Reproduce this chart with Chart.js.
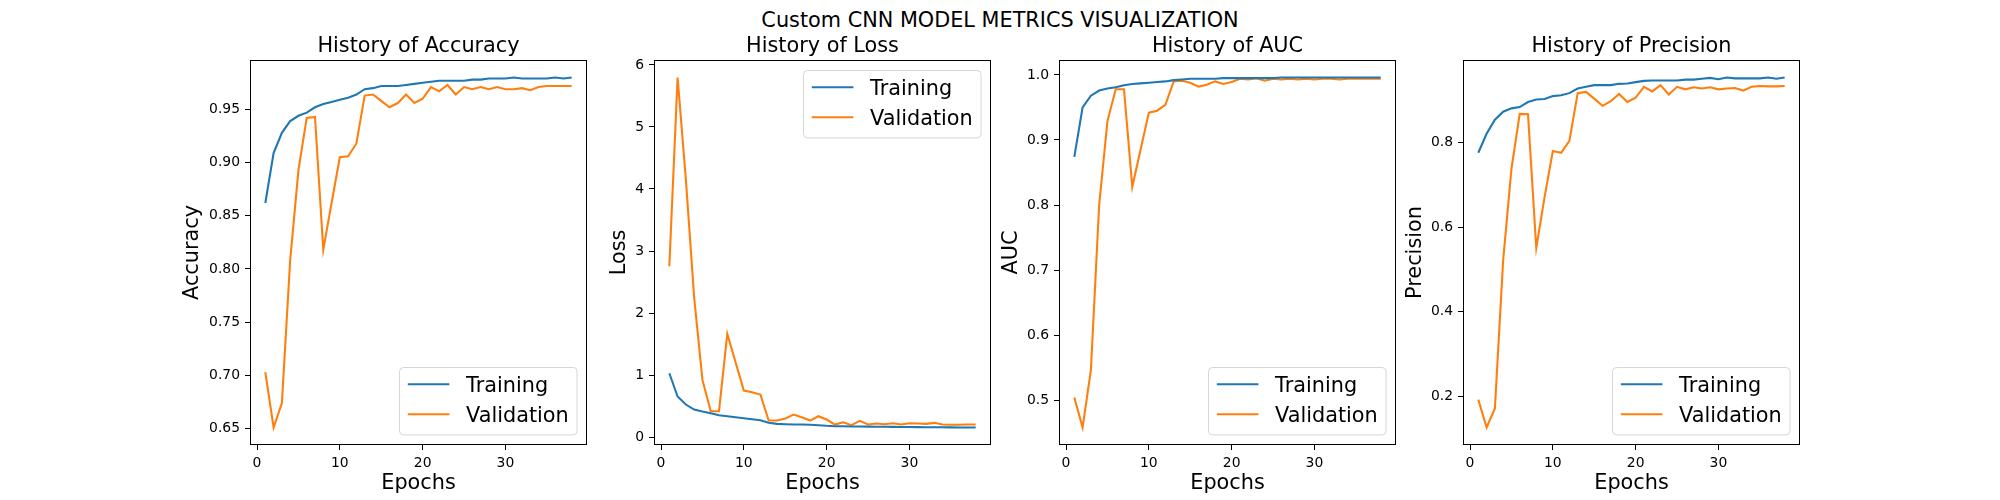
<!DOCTYPE html>
<html><head><meta charset="utf-8">
<script src="https://cdn.jsdelivr.net/npm/chart.js@4.4.1/dist/chart.umd.min.js"></script>
<style>
html,body{margin:0;padding:0;background:#fff;}
#wrap{position:relative;width:2000px;height:500px;overflow:hidden;background:#fff;}
#sup{position:absolute;left:0;top:8px;width:2000px;text-align:center;font-family:"DejaVu Sans",sans-serif;font-size:20.8px;line-height:24px;color:#000;}
canvas{position:absolute;top:0;}
</style></head><body>
<div id="wrap">
<div id="sup">Custom CNN MODEL METRICS VISUALIZATION</div>
<canvas id="c0" width="452" height="500" style="width:452px;height:500px"></canvas>
<canvas id="c1" width="452" height="500" style="width:452px;height:500px"></canvas>
<canvas id="c2" width="452" height="500" style="width:452px;height:500px"></canvas>
<canvas id="c3" width="452" height="500" style="width:452px;height:500px"></canvas>
</div>
<script>
// ---------- data ----------
const epochs = [1,2,3,4,5,6,7,8,9,10,11,12,13,14,15,16,17,18,19,20,21,22,23,24,25,26,27,28,29,30,31,32,33,34,35,36,37,38];

const accTrain = [0.862,0.909,0.928,0.939,0.944,0.947,0.952,0.955,0.957,0.959,0.961,0.964,0.969,0.970,0.972,0.972,0.972,0.973,0.974,0.975,0.976,0.977,0.977,0.977,0.977,0.978,0.978,0.979,0.979,0.979,0.980,0.979,0.979,0.979,0.979,0.980,0.979,0.980];
const accVal   = [0.703,0.651,0.674,0.808,0.893,0.942,0.943,0.818,0.862,0.905,0.906,0.918,0.963,0.964,0.958,0.952,0.956,0.964,0.956,0.960,0.971,0.967,0.973,0.964,0.971,0.969,0.971,0.969,0.971,0.969,0.969,0.970,0.968,0.971,0.972,0.972,0.972,0.972];

const lossTrain = [1.03,0.655,0.526,0.445,0.413,0.386,0.354,0.338,0.322,0.306,0.290,0.274,0.231,0.215,0.209,0.204,0.204,0.199,0.193,0.183,0.177,0.175,0.172,0.172,0.170,0.168,0.167,0.166,0.164,0.163,0.162,0.161,0.160,0.159,0.158,0.157,0.157,0.156];
const lossVal   = [2.754,5.797,4.15,2.25,0.923,0.419,0.419,1.664,1.208,0.751,0.725,0.687,0.268,0.268,0.300,0.365,0.322,0.268,0.338,0.284,0.204,0.241,0.193,0.263,0.204,0.220,0.209,0.225,0.204,0.225,0.220,0.215,0.231,0.204,0.199,0.199,0.204,0.204];

const aucTrain = [0.874,0.950,0.968,0.976,0.979,0.981,0.984,0.986,0.987,0.988,0.989,0.990,0.992,0.993,0.994,0.994,0.994,0.994,0.995,0.995,0.995,0.995,0.995,0.995,0.995,0.996,0.996,0.996,0.996,0.996,0.996,0.996,0.996,0.996,0.996,0.996,0.996,0.996];
const aucVal   = [0.504,0.458,0.546,0.800,0.929,0.978,0.978,0.828,0.885,0.942,0.945,0.954,0.990,0.991,0.988,0.982,0.985,0.990,0.986,0.989,0.994,0.993,0.995,0.991,0.994,0.993,0.994,0.993,0.994,0.993,0.994,0.994,0.993,0.994,0.994,0.994,0.994,0.994];

const precTrain = [0.776,0.821,0.854,0.873,0.881,0.884,0.896,0.902,0.903,0.910,0.912,0.917,0.928,0.932,0.936,0.936,0.936,0.939,0.940,0.943,0.946,0.947,0.947,0.947,0.947,0.949,0.949,0.951,0.953,0.950,0.954,0.952,0.952,0.952,0.952,0.954,0.951,0.954];
const precVal   = [0.192,0.126,0.171,0.522,0.738,0.868,0.867,0.551,0.671,0.780,0.776,0.804,0.917,0.920,0.904,0.887,0.898,0.915,0.896,0.906,0.932,0.921,0.936,0.914,0.932,0.926,0.931,0.928,0.931,0.926,0.928,0.929,0.923,0.932,0.934,0.933,0.933,0.934];

const xTicks = [0,10,20,30];
const xTickLabels = ['0','10','20','30'];
const accTicks = [0.65,0.70,0.75,0.80,0.85,0.90,0.95];
const accTickLabels = ['0.65','0.70','0.75','0.80','0.85','0.90','0.95'];
const lossTicks = [0,1,2,3,4,5,6];
const lossTickLabels = ['0','1','2','3','4','5','6'];
const aucTicks = [0.5,0.6,0.7,0.8,0.9,1.0];
const aucTickLabels = ['0.5','0.6','0.7','0.8','0.9','1.0'];
const precTicks = [0.2,0.4,0.6,0.8];
const precTickLabels = ['0.2','0.4','0.6','0.8'];

const seriesLabels = ['Training','Validation'];
const suptitle = 'Custom CNN MODEL METRICS VISUALIZATION';

// ---------- styling / layout ----------
const FONT = '"DejaVu Sans", sans-serif';
Chart.defaults.font.family = FONT;
Chart.defaults.color = '#000';
const C_TRAIN = '#1f77b4', C_VAL = '#ff7f0e';
const AX_W = 337, YBOX = 100, RPAD = 15, TOP = 60, XBOX = 55;

function padRange(){
  const all = [].concat(...arguments);
  const lo = Math.min(...all), hi = Math.max(...all);
  const m = (hi - lo) * 0.05;
  return [lo - m, hi + m];
}

const mplPlugin = {
  id: 'mpl',
  afterDraw(chart, args, o){
    const ctx = chart.ctx, a = chart.chartArea;
    ctx.save();
    // spines
    ctx.strokeStyle = '#000'; ctx.lineWidth = 1;
    ctx.strokeRect(a.left + 0.5, a.top + 0.5, a.right - a.left - 1, a.bottom - a.top - 1);
    // title
    ctx.fillStyle = '#000';
    ctx.font = '20.8px ' + FONT;
    ctx.textAlign = 'center'; ctx.textBaseline = 'alphabetic';
    ctx.fillText(o.title, (a.left + a.right) / 2, a.top - 8.3);
    // legend
    const fs = 20.8, bp = 0.4*fs, hl = 2*fs, htp = 0.8*fs, bap = 0.5*fs;
    const ds = chart.data.datasets;
    const tw = Math.max(...ds.map(d => ctx.measureText(d.label).width));
    const w = 2*bp + hl + htp + tw, h = 67.4;
    const x0 = Math.round(a.right - bap - w) + 0.5;
    const y0 = Math.round(o.legend === 'upper right' ? a.top + bap : a.bottom - bap - h) + 0.5;
    const r = 4;
    ctx.beginPath();
    ctx.moveTo(x0 + r, y0);
    ctx.lineTo(x0 + w - r, y0); ctx.arcTo(x0 + w, y0, x0 + w, y0 + r, r);
    ctx.lineTo(x0 + w, y0 + h - r); ctx.arcTo(x0 + w, y0 + h, x0 + w - r, y0 + h, r);
    ctx.lineTo(x0 + r, y0 + h); ctx.arcTo(x0, y0 + h, x0, y0 + h - r, r);
    ctx.lineTo(x0, y0 + r); ctx.arcTo(x0, y0, x0 + r, y0, r);
    ctx.closePath();
    ctx.fillStyle = 'rgba(255,255,255,0.8)'; ctx.fill();
    ctx.strokeStyle = 'rgba(204,204,204,0.8)'; ctx.lineWidth = 1; ctx.stroke();
    ds.forEach((d, i) => {
      const cy = y0 + 16.7 + 30 * i;
      ctx.strokeStyle = d.borderColor; ctx.lineWidth = 2.08;
      ctx.beginPath(); ctx.moveTo(x0 + bp, cy); ctx.lineTo(x0 + bp + hl, cy); ctx.stroke();
      ctx.fillStyle = '#000'; ctx.textAlign = 'left';
      ctx.fillText(d.label, x0 + bp + hl + htp, cy + 7.5);
    });
    ctx.restore();
  }
};

function makeChart(idx, axLeft, cfg){
  const cv = document.getElementById('c' + idx);
  cv.style.left = (axLeft - YBOX) + 'px';
  const yr = padRange(cfg.train, cfg.val);
  const xr = padRange(epochs);
  const gridOpts = {drawOnChartArea:false, drawTicks:true, tickLength:5, color:'#000', lineWidth:1};
  return new Chart(cv, {
    type: 'line',
    data: { datasets: [
      {label: seriesLabels[0], data: epochs.map((e,i)=>({x:e, y:cfg.train[i]})), borderColor:C_TRAIN, backgroundColor:C_TRAIN, borderWidth:2.08, pointRadius:0, tension:0, fill:false},
      {label: seriesLabels[1], data: epochs.map((e,i)=>({x:e, y:cfg.val[i]})), borderColor:C_VAL, backgroundColor:C_VAL, borderWidth:2.08, pointRadius:0, tension:0, fill:false}
    ]},
    options: {
      responsive:false, animation:false, devicePixelRatio:1, events:[],
      layout:{padding:{top:TOP, right:RPAD, bottom:0, left:0}},
      plugins:{legend:{display:false}, title:{display:false}, tooltip:{enabled:false},
               mpl:{title:cfg.title, legend:cfg.legend}},
      scales:{
        x:{type:'linear', min:xr[0], max:xr[1],
           afterFit(s){ s.height = XBOX; },
           afterBuildTicks(s){ s.ticks = xTicks.map(v=>({value:v})); },
           ticks:{font:{size:13.9}, padding:5, maxRotation:0, autoSkip:false, callback:(v,i)=>xTickLabels[i]},
           grid:gridOpts, border:{display:false},
           title:{display:true, text:'Epochs', font:{size:20.8, lineHeight:1.2}, padding:{top:0, bottom:4}}},
        y:{type:'linear', min:yr[0], max:yr[1],
           afterFit(s){ s.width = YBOX; },
           afterBuildTicks(s){ s.ticks = cfg.ticks.map(v=>({value:v})); },
           ticks:{font:{size:13.9}, padding:5, autoSkip:false, callback:(v,i)=>cfg.tickLabels[i]},
           grid:gridOpts, border:{display:false},
           title:{display:true, text:cfg.ylabel, font:{size:20.8, lineHeight:1.2}, padding:{top:cfg.ytp, bottom:0}}}
      }
    },
    plugins:[mplPlugin]
  });
}

makeChart(0, 250,  {title:'History of Accuracy',  ylabel:'Accuracy',  train:accTrain,  val:accVal,  ticks:accTicks,  tickLabels:accTickLabels,  legend:'lower right', ytp:30.5});
makeChart(1, 654,  {title:'History of Loss',      ylabel:'Loss',      train:lossTrain, val:lossVal, ticks:lossTicks, tickLabels:lossTickLabels, legend:'upper right', ytp:53.5});
makeChart(2, 1059, {title:'History of AUC',       ylabel:'AUC',       train:aucTrain,  val:aucVal,  ticks:aucTicks,  tickLabels:aucTickLabels,  legend:'lower right', ytp:40.5});
makeChart(3, 1463, {title:'History of Precision', ylabel:'Precision', train:precTrain, val:precVal, ticks:precTicks, tickLabels:precTickLabels, legend:'lower right', ytp:40.5});
</script>
</body></html>
